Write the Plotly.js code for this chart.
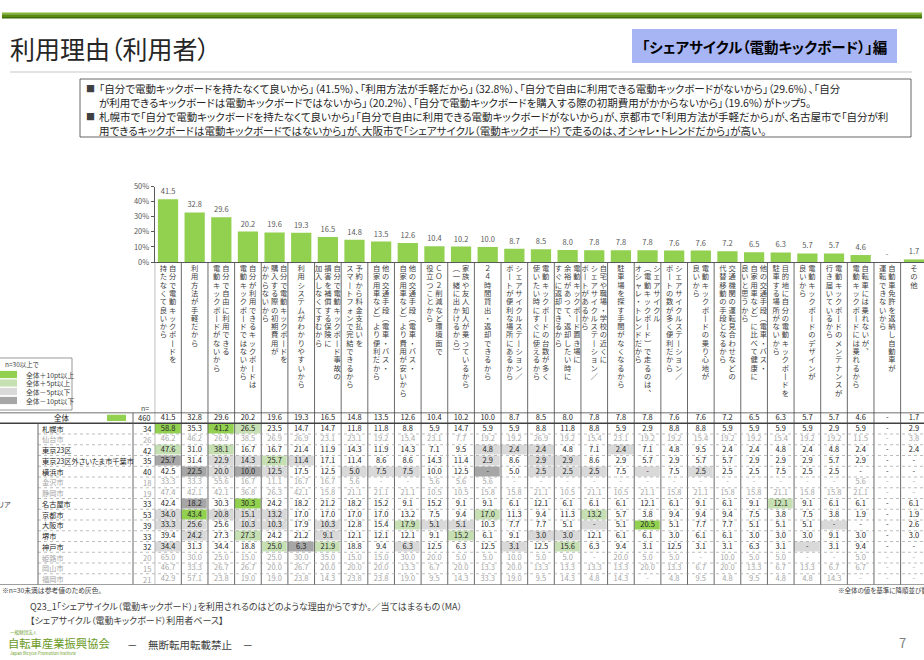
<!DOCTYPE html>
<html><head><meta charset="utf-8">
<script src="https://cdn.plot.ly/plotly-3.0.1.min.js"></script>
<style>
html,body{margin:0;padding:0;background:#fff;}
#chart{width:924px;height:660px;}
text{font-feature-settings:"palt" 1;}
</style>
</head><body><div id="chart"></div>
<script>
// ---------- DATA ----------
const categories = [
  "自分で電動キックボードを|持たなくて良いから",
  "利用方法が手軽だから",
  "自分で自由に利用できる|電動キックボードがないから",
  "自分が利用できるキックボードは|電動キックボードではないから",
  "自分で電動キックボードを|購入する際の初期費用が|かからないから",
  "利用システムがわかりやすいから",
  "自分で電動キックボード事故の|損害を補償する保険に|加入しなくてすむから",
  "予約から料金支払いを|スマートフォンで完結できるから",
  "他の交通手段（電車・バス・|自家用車など）より便利だから",
  "他の交通手段（電車・バス・|自家用車など）より費用が安いから",
  "ＣＯ２削減など環境面で|役立つことから",
  "家族や友人知人が乗っているから|（一緒に出かけるから）",
  "２４時間貸出・返却できるから",
  "シェアサイクルステーション／|ポートが便利な場所にあるから",
  "電動キックボードの台数が多く|使いたい時にすぐに使えるから",
  "電動キックボード置き場に|余裕があって、返却したい時に|すぐに返却できるから",
  "自宅や職場・学校の近くに|シェアサイクルステーション／|ポートがあるから",
  "駐車場を探す手間がなくなるから",
  "シェアサイクル|（電動キックボード）で走るのは、|オシャレ・トレンドだから",
  "シェアサイクルステーション／|ポートの数が多く便利だから",
  "電動キックボードの乗り心地が|良いから",
  "交通機関の運転見合わせなどの|代替移動の手段となるから",
  "他の交通手段（電車・バス・|自家用車など）に比べて健康に|良いと思うから",
  "目的地に自分の電動キックボードを|駐車する場所がないから",
  "電動キックボードのデザインが|良いから",
  "電動キックボードのメンテナンスが|行き届いているから",
  "自転車には乗れないが、|電動キックボードには乗れるから",
  "自動車免許を返納し自動車が|運転できないから",
  "その他"
];
const totalN = 460;
const totalValues = [41.5,32.8,29.6,20.2,19.6,19.3,16.5,14.8,13.5,12.6,10.4,10.2,10.0,8.7,8.5,8.0,7.8,7.8,7.8,7.6,7.6,7.2,6.5,6.3,5.7,5.7,4.6,null,1.7];

const areaNames = ["札幌市","仙台市","東京23区","東京23区外さいたま市千葉市","横浜市","金沢市","静岡市","名古屋市","京都市","大阪市","堺市","神戸市","姫路市","岡山市","福岡市"];
const areaN = [34,26,42,35,40,18,19,33,53,39,33,32,20,15,21];

const vSapporo   = [58.8,35.3,41.2,26.5,23.5,14.7,14.7,11.8,11.8,8.8,5.9,14.7,5.9,5.9,8.8,11.8,8.8,5.9,2.9,8.8,8.8,5.9,5.9,5.9,5.9,2.9,5.9,null,2.9];
const vSendai    = [46.2,46.2,26.9,38.5,26.9,26.9,23.1,23.1,19.2,15.4,23.1,7.7,19.2,19.2,26.9,19.2,15.4,23.1,19.2,19.2,15.4,19.2,19.2,15.4,19.2,19.2,11.5,null,3.8];
const vTokyo23   = [47.6,31.0,38.1,16.7,16.7,21.4,11.9,14.3,11.9,14.3,7.1,9.5,4.8,2.4,2.4,4.8,7.1,2.4,7.1,4.8,9.5,2.4,2.4,4.8,2.4,4.8,2.4,null,2.4];
const vTokyoOut  = [25.7,31.4,22.9,14.3,25.7,11.4,17.1,11.4,8.6,8.6,14.3,11.4,2.9,8.6,2.9,2.9,8.6,2.9,5.7,2.9,5.7,5.7,2.9,2.9,2.9,5.7,2.9,null,null];
const vYokohama  = [42.5,22.5,20.0,10.0,12.5,17.5,12.5,5.0,7.5,7.5,10.0,12.5,null,5.0,2.5,2.5,2.5,7.5,null,7.5,2.5,2.5,2.5,7.5,2.5,2.5,null,null,null];
const vKanazawa  = [33.3,33.3,55.6,16.7,11.1,16.7,16.7,5.6,null,null,5.6,5.6,5.6,null,null,null,null,null,null,null,null,null,null,null,null,null,5.6,null,null];
const vShizuoka  = [47.4,42.1,42.1,36.8,26.3,42.1,15.8,21.1,21.1,21.1,10.5,10.5,15.8,15.8,21.1,10.5,21.1,10.5,21.1,15.8,21.1,15.8,15.8,21.1,15.8,15.8,21.1,null,null];
const vNagoya    = [42.4,18.2,30.3,30.3,24.2,18.2,21.2,18.2,15.2,9.1,15.2,9.1,9.1,6.1,12.1,6.1,6.1,6.1,12.1,6.1,9.1,6.1,9.1,12.1,9.1,6.1,6.1,null,6.1];
const vKyoto     = [34.0,43.4,20.8,15.1,13.2,17.0,17.0,17.0,17.0,13.2,7.5,9.4,17.0,11.3,9.4,11.3,13.2,5.7,3.8,9.4,9.4,9.4,7.5,3.8,7.5,3.8,1.9,null,1.9];
const vOsaka     = [33.3,25.6,25.6,10.3,10.3,17.9,10.3,12.8,15.4,17.9,5.1,5.1,10.3,7.7,7.7,5.1,null,5.1,20.5,5.1,7.7,7.7,5.1,5.1,5.1,null,null,null,2.6];
const vSakai     = [39.4,24.2,27.3,27.3,24.2,21.2,9.1,12.1,12.1,12.1,9.1,15.2,6.1,9.1,3.0,3.0,12.1,6.1,6.1,3.0,6.1,6.1,3.0,3.0,3.0,9.1,3.0,null,3.0];
const vKobe      = [34.4,31.3,34.4,18.8,25.0,6.3,21.9,18.8,9.4,6.3,12.5,6.3,12.5,3.1,12.5,15.6,6.3,9.4,3.1,12.5,3.1,3.1,6.3,3.1,null,3.1,9.4,null,null];
const vHimeji    = [65.0,30.0,25.0,15.0,25.0,30.0,35.0,15.0,15.0,30.0,20.0,5.0,5.0,10.0,5.0,5.0,null,20.0,5.0,5.0,null,10.0,5.0,5.0,null,null,5.0,null,null];
const vOkayama   = [46.7,33.3,26.7,26.7,20.0,26.7,20.0,20.0,20.0,13.3,6.7,20.0,13.3,20.0,13.3,13.3,13.3,13.3,20.0,13.3,6.7,20.0,13.3,6.7,13.3,6.7,6.7,null,null];
const vFukuoka   = [42.9,57.1,23.8,19.0,19.0,23.8,14.3,23.8,23.8,19.0,9.5,14.3,33.3,19.0,9.5,14.3,4.8,14.3,null,4.8,9.5,4.8,9.5,4.8,4.8,14.3,null,null,null];

const areaValues = [vSapporo,vSendai,vTokyo23,vTokyoOut,vYokohama,vKanazawa,vShizuoka,vNagoya,vKyoto,vOsaka,vSakai,vKobe,vHimeji,vOkayama,vFukuoka];
const yTickVals = [0,10,20,30,40,50];
const yTickText = ["0%","10%","20%","30%","40%","50%"];

// ---------- LAYOUT HELPERS ----------
const W = 924, H = 660;
const px = x => x / W;
const py = y => 1 - y / H;
const FONT = '"Noto Sans CJK JP", "Noto Sans", sans-serif';
const colW = 26.64, colX0 = 154.7;
const xMax = (W - colX0) / colW - 0.5;
const charH = 8.3;
const labTop = 263, labBot = 412.5;
const labRange = (labBot - labTop) / charH;
const tabTop = 412.5, tabBot = 584.5;
const fmt = v => v === null ? '-' : v.toFixed(1);
const num = v => v === null ? 0 : v;
const idx = categories.map((c, i) => i);

const traces = [];

// bars
traces.push({
  type: 'bar', x: idx, y: totalValues.map(num), text: totalValues.map(fmt),
  textposition: 'outside', cliponaxis: false, constraintext: 'none',
  textfont: {size: 7.5, color: '#595959', family: FONT},
  marker: {color: '#92D050'}, width: 0.76, hoverinfo: 'skip', xaxis: 'x', yaxis: 'y'
});

// vertical category labels
const vmap = {'ー': '丨', '（': '︵', '）': '︶', '、': '︑'};
const lx = [], ly = [], lt = [];
const subGap = 9.2 / colW;
categories.forEach((cat, i) => {
  const cols = cat.split('|');
  const k = cols.length;
  cols.forEach((line, c) => {
    const off = ((k - 1) / 2 - c) * subGap;
    Array.from(line).forEach((ch, j) => {
      lx.push(i + off); ly.push(j + 0.75); lt.push(vmap[ch] || ch);
    });
  });
});
traces.push({
  type: 'scatter', mode: 'text', x: lx, y: ly, text: lt, textposition: 'middle center',
  textfont: {size: 7.3, color: '#404040', family: FONT}, cliponaxis: true,
  hoverinfo: 'skip', xaxis: 'x', yaxis: 'y2'
});

// table cell colours
function level(v, t, n) {
  if (n < 30) return 0;
  const d = num(v) - num(t);
  if (d >= 9.95) return 1;
  if (d >= 4.95) return 2;
  if (d <= -9.95) return 4;
  if (d <= -4.95) return 3;
  return 0;
}
const zMat = [totalValues.map(() => 0)];
areaValues.forEach((row, r) => zMat.push(row.map((v, c) => level(v, totalValues[c], areaN[r]))));
const rowIdx = zMat.map((r, i) => i);
traces.push({
  type: 'heatmap', x: idx, y: rowIdx, z: zMat, zmin: 0, zmax: 4, showscale: false,
  xgap: 1, ygap: 1, hoverinfo: 'skip', xaxis: 'x', yaxis: 'y3',
  colorscale: [[0,'#ffffff'],[0.125,'#ffffff'],[0.125,'#92D050'],[0.375,'#92D050'],
               [0.375,'#C6E0B4'],[0.625,'#C6E0B4'],[0.625,'#D9D9D9'],[0.875,'#D9D9D9'],
               [0.875,'#A6A6A6'],[1,'#A6A6A6']]
});

// table numbers
const tx = [], ty = [], tt = [], tc = [];
const allRows = [totalValues].concat(areaValues);
const allN = [totalN].concat(areaN);
allRows.forEach((row, r) => row.forEach((v, c) => {
  tx.push(c); ty.push(r); tt.push(fmt(v)); tc.push(allN[r] < 30 ? '#a6a6a6' : '#262626');
}));
traces.push({
  type: 'scatter', mode: 'text', x: tx, y: ty, text: tt, textposition: 'middle center',
  textfont: {size: 7.5, color: tc, family: FONT}, cliponaxis: false,
  hoverinfo: 'skip', xaxis: 'x', yaxis: 'y3'
});

// ---------- SHAPES ----------
const shapes = [];
const rectP = (x0, y0, x1, y1, fill, line, lw) => shapes.push({type:'rect', xref:'paper', yref:'paper',
  x0: px(x0), x1: px(x1), y0: py(y1), y1: py(y0), fillcolor: fill, line: {color: line || fill, width: lw === undefined ? 0 : lw}, layer: 'below'});
const lineP = (x0, y0, x1, y1, color, w, dash) => shapes.push({type:'line', xref:'paper', yref:'paper',
  x0: px(x0), x1: px(x1), y0: py(y0), y1: py(y1), line: {color: color, width: w, dash: dash || 'solid'}});

// header bar
rectP(2, 12.5, 922, 14.2, '#86b83a');
rectP(2, 14.2, 922, 17, '#5b8c12');
rectP(2, 17, 922, 18.6, '#3f6c06');
// title separator
lineP(10, 72, 912, 72, '#e3e3e3', 2);
// blue box
rectP(632, 29, 897, 63, '#a7b5f5');
// text box
shapes.push({type:'rect', xref:'paper', yref:'paper', x0: px(80), x1: px(911), y0: py(137), y1: py(79),
  line: {color: '#404040', width: 0.8}, fillcolor: 'rgba(0,0,0,0)'});

// table vertical lines
for (let i = 0; i <= categories.length; i++) {
  shapes.push({type:'line', xref:'x', yref:'paper', x0: i - 0.5, x1: i - 0.5, y0: py(labTop), y1: py(tabBot),
    line: {color: '#595959', width: 0.9}});
}
// row separators
for (let r = 1; r < areaNames.length; r++) {
  shapes.push({type:'line', xref:'paper', yref:'y3', x0: px(38), x1: 1, y0: r + 0.5, y1: r + 0.5,
    line: {color: '#a0a0a0', width: 0.7, dash: 'dot'}});
}
shapes.push({type:'line', xref:'paper', yref:'y3', x0: 0, x1: 1, y0: -0.5, y1: -0.5, line: {color: '#404040', width: 1.6}});
shapes.push({type:'line', xref:'paper', yref:'y3', x0: 0, x1: 1, y0: 0.5, y1: 0.5, line: {color: '#404040', width: 1.6}});
shapes.push({type:'line', xref:'paper', yref:'y3', x0: 0, x1: 1, y0: areaNames.length + 0.5, y1: areaNames.length + 0.5, line: {color: '#404040', width: 1.2}});
shapes.push({type:'line', xref:'paper', yref:'y3', x0: px(38), x1: px(38), y0: 0.5, y1: areaNames.length + 0.5, line: {color: '#595959', width: 0.9}});
shapes.push({type:'line', xref:'paper', yref:'y3', x0: px(133), x1: px(133), y0: -0.5, y1: areaNames.length + 0.5, line: {color: '#595959', width: 0.9}});
// 全体 swatch
shapes.push({type:'rect', xref:'paper', yref:'y3', x0: px(107), x1: px(126), y0: -0.28, y1: 0.28, fillcolor: '#92D050', line: {width: 0}});

// legend box
shapes.push({type:'rect', xref:'paper', yref:'paper', x0: px(-1), x1: px(72), y0: py(410), y1: py(358),
  fillcolor: '#ffffff', line: {color: '#7f7f7f', width: 0.8}});
const legendItems = [['全体＋10pt以上','#92D050',374.5],['全体＋5pt以上','#C6E0B4',383],['全体－5pt以下','#D9D9D9',391.5],['全体－10pt以下','#A6A6A6',400.5]];
legendItems.forEach(it => shapes.push({type:'rect', xref:'paper', yref:'paper', x0: px(0), x1: px(17),
  y0: py(it[2] + 3.6), y1: py(it[2] - 3.6), fillcolor: it[1], line: {width: 0}}));

// ---------- ANNOTATIONS ----------
const ann = [];
const A = (text, x, y, size, color, anchor, extra) => ann.push(Object.assign({text: text, x: px(x), y: py(y), xref: 'paper', yref: 'paper',
  showarrow: false, xanchor: anchor || 'left', yanchor: 'middle', font: {size: size, color: color, family: FONT}}, extra || {}));

A('利用理由（利用者）', 8, 48, 25, '#262626');
A('<b>「シェアサイクル（電動キックボード）」編</b>', 764.5, 46, 14.5, '#000000', 'center');
A('■', 90, 88.5, 9, '#404040', 'center');
A('■', 90, 116.5, 9, '#404040', 'center');
const bullets = [
  '「自分で電動キックボードを持たなくて良いから」（41.5%）、「利用方法が手軽だから」（32.8%）、「自分で自由に利用できる電動キックボードがないから」（29.6%）、「自分',
  'が利用できるキックボードは電動キックボードではないから」（20.2%）、「自分で電動キックボードを購入する際の初期費用がかからないから」（19.6%）がトップ5。',
  '札幌市で「自分で電動キックボードを持たなくて良いから」「自分で自由に利用できる電動キックボードがないから」が、京都市で「利用方法が手軽だから」が、名古屋市で「自分が利',
  '用できるキックボードは電動キックボードではないから」が、大阪市で「シェアサイクル（電動キックボード）で走るのは、オシャレ・トレンドだから」が高い。'
];
[88.5, 102, 116.5, 130].forEach((y, i) => A(bullets[i], 97, y, 10.5, '#262626'));

// legend texts
A('n=30以上で', 3, 364, 6.5, '#404040');
legendItems.forEach(it => A(it[0], 24, it[2], 6.8, '#404040'));

// table left labels
A('n=', 145, 408, 7, '#404040', 'center');
ann.push({text: '全体', x: px(62), y: 0, xref: 'paper', yref: 'y3', showarrow: false, xanchor: 'center', yanchor: 'middle',
  font: {size: 7.5, color: '#262626', family: FONT}});
ann.push({text: String(totalN), x: px(153), y: 0, xref: 'paper', yref: 'y3', showarrow: false, xanchor: 'right', yanchor: 'middle',
  font: {size: 7.5, color: '#262626', family: FONT}});
areaNames.forEach((name, r) => {
  const col = areaN[r] < 30 ? '#a6a6a6' : '#262626';
  ann.push({text: name, x: px(40), y: r + 1, xref: 'paper', yref: 'y3', showarrow: false, xanchor: 'left', yanchor: 'middle',
    font: {size: 7.2, color: col, family: FONT}});
  ann.push({text: String(areaN[r]), x: px(153), y: r + 1, xref: 'paper', yref: 'y3', showarrow: false, xanchor: 'right', yanchor: 'middle',
    font: {size: 7.5, color: col, family: FONT}});
});
ann.push({text: 'エリア', x: px(13), y: 8, xref: 'paper', yref: 'y3', showarrow: false, xanchor: 'right', yanchor: 'middle',
  font: {size: 7.2, color: '#404040', family: FONT}});

// footer
A('※n=30未満は参考値のため灰色。', 0, 590, 6.8, '#404040');
A('※全体の値を基準に降順並び替え', 836, 590, 6.5, '#404040');
A('Q23_1「シェアサイクル（電動キックボード）」を利用されるのはどのような理由からですか。／当てはまるもの（MA）', 28, 606, 9, '#404040');
A('【シェアサイクル（電動キックボード）利用者ベース】', 28, 620, 9, '#404040');
A('一般財団法人', 8, 632.5, 4.5, '#6a9a1e');
A('自転車産業振興協会', 6, 643, 11.3, '#6a9a1e');
A('Japan Bicycle Promotion Institute', 8, 653, 4.2, '#6a9a1e');
A('－　無断転用転載禁止　－', 125, 644, 10.5, '#404040');
A('7', 897, 642, 13, '#7f7f7f');

// ---------- LAYOUT ----------
const layout = {
  width: W, height: H, margin: {l: 0, r: 0, t: 0, b: 0, pad: 0},
  paper_bgcolor: '#ffffff', plot_bgcolor: 'rgba(0,0,0,0)', showlegend: false,
  font: {family: FONT, color: '#404040'},
  bargap: 0.24,
  xaxis: {domain: [px(colX0), 1], range: [-0.5, xMax], anchor: 'y', showline: true, linecolor: '#595959', linewidth: 1,
    showticklabels: false, ticks: '', showgrid: false, zeroline: false, fixedrange: true},
  yaxis: {domain: [py(262), py(186.5)], range: [0, 50], anchor: 'x', tickvals: yTickVals, ticktext: yTickText,
    tickfont: {size: 7.5, color: '#595959', family: FONT}, ticks: 'outside', ticklen: 3, tickcolor: '#595959',
    showline: true, linecolor: '#595959', linewidth: 1, showgrid: false, zeroline: false, fixedrange: true},
  yaxis2: {domain: [py(labBot), py(labTop)], range: [labRange, 0], anchor: 'x', visible: false, fixedrange: true},
  yaxis3: {domain: [py(tabBot), py(tabTop)], range: [areaNames.length + 0.5, -0.5], anchor: 'x', visible: false, fixedrange: true},
  shapes: shapes, annotations: ann
};

Plotly.newPlot('chart', traces, layout, {staticPlot: true, displayModeBar: false});
</script>
</body></html>
